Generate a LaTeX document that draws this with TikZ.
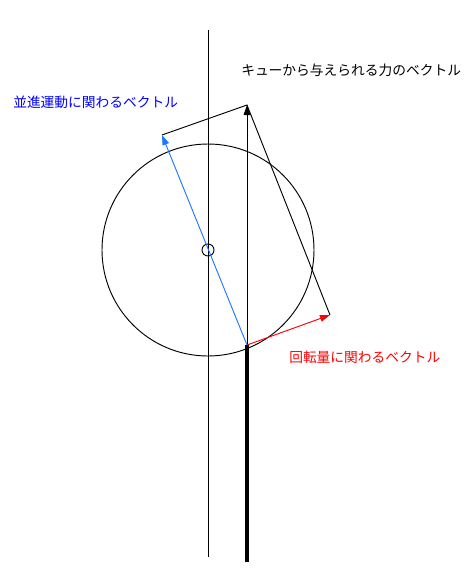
\documentclass[tikz,border=0pt]{standalone}
\usepackage{fontspec}
\newfontfamily\jp{Noto Sans CJK JP}
\usetikzlibrary{arrows.meta}
\definecolor{vecblue}{RGB}{30,120,255}
\tikzset{
  thin line/.style={line width=0.7pt, black},
  vec/.style={line width=0.7pt, -{Triangle[length=7.5pt,width=5pt]}},
  lbl/.style={font=\jp\fontsize{10.3pt}{12pt}\selectfont, inner sep=0pt, anchor=west}
}
\begin{document}
\begin{tikzpicture}[x=0.75pt,y=-0.75pt]
\useasboundingbox (0,0) rectangle (472,578);
% points
\coordinate (axtop) at (208,30);
\coordinate (axbot) at (208,557);
\coordinate (C) at (208,250);
\coordinate (P) at (247,345);
\coordinate (Pbot) at (247,562);
\coordinate (F) at (247,105);
\coordinate (T) at (162,135);
\coordinate (R) at (330,315);
% axis line
\draw[thin line] (axtop) -- (axbot);
% big circle and small circle
\draw[thin line] (C) circle[radius=106];
\draw[thin line] (C) circle[radius=6];
% cue stick
\draw[line width=3pt] (P) -- (Pbot);
% force vector
\draw[vec, black] (P) -- (F);
% decomposition lines
\draw[thin line] (T) -- (F) -- (R);
% translation vector
\draw[vec, vecblue] (P) -- (T);
% rotation vector
\draw[vec, red] (P) -- (R);
% labels
\node[lbl, text=black] (lf) at (241,70) {キューから与えられる力のベクトル};
\node[lbl, text=blue] (lt) at (13,102) {並進運動に関わるベクトル};
\node[lbl, text=red] (lr) at (289,357) {回転量に関わるベクトル};
\end{tikzpicture}
\end{document}
